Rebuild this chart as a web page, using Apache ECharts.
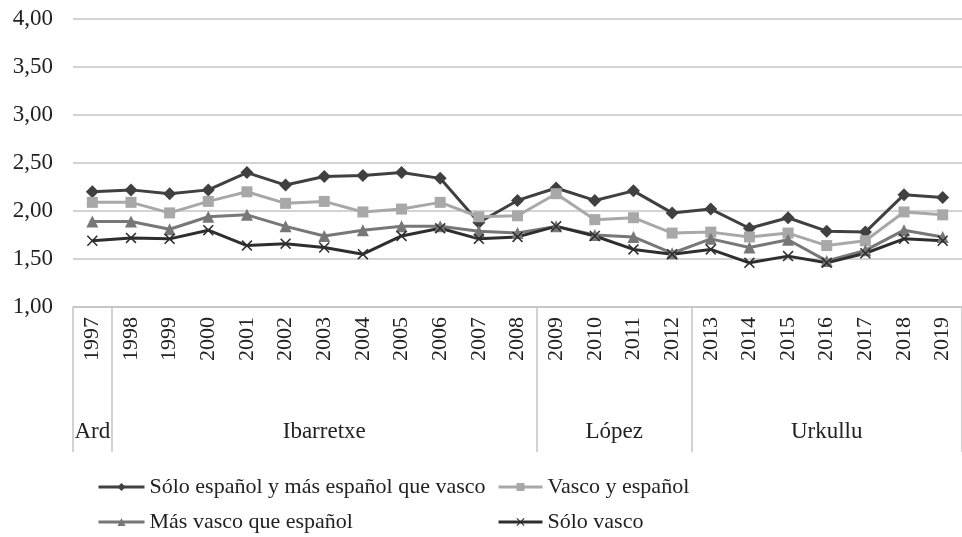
<!DOCTYPE html>
<html>
<head>
<meta charset="utf-8">
<script src="https://cdn.jsdelivr.net/npm/echarts@6/dist/echarts.min.js"></script>
<style>
  html, body { margin: 0; padding: 0; background: #fff; }
  #ChartDom { width: 962px; height: 537px; }
</style>
</head>
<body>
<div id="ChartDom"></div>
<script>
const years = ["1997","1998","1999","2000","2001","2002","2003","2004","2005","2006","2007","2008",
  "2009","2010","2011","2012","2013","2014","2015","2016","2017","2018","2019"]
const soloEspanol = [2.20,2.22,2.18,2.22,2.40,2.27,2.36,2.37,2.40,2.34,1.88,2.11,2.24,2.11,2.21,1.98,2.02,1.82,1.93,1.79,1.78,2.17,2.14]
const vascoEspanol = [2.09,2.09,1.98,2.10,2.20,2.08,2.10,1.99,2.02,2.09,1.94,1.95,2.18,1.91,1.93,1.77,1.78,1.73,1.77,1.64,1.69,1.99,1.96]
const masVasco = [1.89,1.89,1.81,1.94,1.96,1.84,1.74,1.80,1.84,1.84,1.79,1.77,1.84,1.75,1.73,1.56,1.71,1.62,1.70,1.48,1.59,1.80,1.73]
const soloVasco = [1.69,1.72,1.71,1.80,1.64,1.66,1.62,1.55,1.74,1.82,1.71,1.73,1.84,1.74,1.60,1.55,1.60,1.46,1.53,1.46,1.56,1.71,1.69]
const groups = [["Ard","1997","1997"],["Ibarretxe","1998","2008"],["López","2009","2012"],["Urkullu","2013","2019"]]
const names = ["Sólo español y más español que vasco","Vasco y español","Más vasco que español","Sólo vasco"]

const font = "Liberation Serif"
const textColor = "#222"
const lineColor = "#c4c4c4"
const crossPath = "path://M0,1L1,0L5,4L9,0L10,1L6,5L10,9L9,10L5,6L1,10L0,9L4,5Z"
// left edges of the groups, where the separator lines go
const groupStarts = groups.map(g => years.indexOf(g[1]))

const myChart = echarts.init(document.getElementById("ChartDom"))

function mkSeries(name, data, color, symbol, size) {
  return {
    name, type: "line", data,
    symbol, symbolSize: size,
    lineStyle: { color, width: 3 },
    itemStyle: { color },
  }
}

const legendBase = {
  orient: "vertical", top: 476, padding: 0, itemGap: 13,
  itemHeight: 10,
  lineStyle: { width: 3 },
  textStyle: { fontFamily: font, fontSize: 22, color: textColor },
}

myChart.setOption({
  animation: false,
  grid: { top: 19, left: 73, width: 893, bottom: 230 },
  legend: [
    { ...legendBase, left: 97, itemWidth: 46, data: [names[0], names[2]] },
    { ...legendBase, left: 497, itemWidth: 44, data: [names[1], names[3]] },
  ],
  xAxis: {
    type: "category",
    data: years,
    boundaryGap: true,
    axisLine: { show: true, lineStyle: { color: lineColor, width: 1.5 } },
    axisTick: {
      show: true, length: 145,
      interval: (idx) => groupStarts.includes(idx),
      lineStyle: { color: lineColor, width: 1.5 },
    },
    axisLabel: {
      rotate: 90, margin: 10, interval: 0,
      fontFamily: font, fontSize: 22, color: textColor,
    },
  },
  yAxis: {
    type: "value", min: 1, max: 4, interval: 0.5,
    axisLine: { show: false },
    axisTick: { show: false },
    splitLine: { show: true, lineStyle: { color: lineColor, width: 1.5 } },
    axisLabel: {
      margin: 20, fontFamily: font, fontSize: 23, color: textColor,
      formatter: v => v.toFixed(2).replace(".", ","),
    },
  },
  series: [
    mkSeries(names[0], soloEspanol, "#404040", "diamond", 13),
    mkSeries(names[1], vascoEspanol, "#a8a8a8", "rect", 11),
    mkSeries(names[2], masVasco, "#777777", "triangle", 12),
    mkSeries(names[3], soloVasco, "#2e2e2e", crossPath, 11),
  ],
})

// group labels under the years, centred on their span
const px = y => myChart.convertToPixel({ xAxisIndex: 0 }, y)
myChart.setOption({
  graphic: groups.map(g => ({
    type: "text",
    x: (px(g[1]) + px(g[2])) / 2,
    y: 432,
    style: {
      text: g[0], align: "center", verticalAlign: "middle",
      fontFamily: font, fontSize: 23, fill: textColor,
    },
  })),
})
</script>
</body>
</html>
